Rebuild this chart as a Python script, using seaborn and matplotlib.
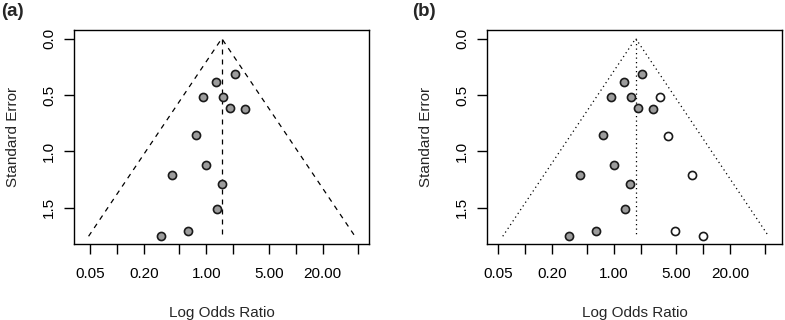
import numpy as np
import matplotlib
matplotlib.use("Agg")
import matplotlib.pyplot as plt
import seaborn as sns

# observed studies (odds ratio, standard error)
or_obs = [2.08, 1.28, 0.92, 1.54, 1.85, 2.72, 0.76, 1.00, 0.41, 1.50, 1.32, 0.63, 0.31]
se_obs = [0.317, 0.388, 0.518, 0.522, 0.613, 0.623, 0.858, 1.120, 1.209, 1.289, 1.513, 1.702, 1.752]

# studies imputed by trim-and-fill (panel b)
or_fill = [3.31, 4.04, 7.45, 4.88, 9.89]
se_fill = [0.516, 0.860, 1.209, 1.702, 1.752]

# pooled estimates
est_a = 1.49
est_b = 1.75
se_max = 1.752

xticks = [0.05, 0.1, 0.2, 0.5, 1, 2, 5, 10, 20, 50]
xtick_labels = ["0.05", "", "0.20", "", "1.00", "", "5.00", "", "20.00", ""]
yticks = [0.0, 0.5, 1.0, 1.5]
ytick_labels = ["0.0", "0.5", "1.0", "1.5"]

sns.set_style("white")
plt.rcParams["font.family"] = ["Liberation Sans", "DejaVu Sans"]

fig = plt.figure(figsize=(7.85, 3.2), dpi=100)
ax_a = fig.add_axes([0.0947, 0.2366, 0.3753, 0.6687])
ax_b = fig.add_axes([0.6208, 0.2366, 0.3750, 0.6687])


def draw_funnel(ax, est, dashes):
    z = 1.96 * se_max
    xs = [est * np.exp(-z), est, est * np.exp(z)]
    ys = [se_max, 0, se_max]
    ax.plot(xs, ys, color="black", lw=0.9, dashes=dashes)
    ax.plot([est, est], [0, se_max], color="black", lw=0.9, dashes=dashes)


def style_axes(ax, xlim):
    ax.set_xscale("log")
    ax.set_xlim(*xlim)
    ax.set_ylim(1.823, -0.073)
    ax.set_xticks(xticks)
    ax.set_xticklabels(xtick_labels)
    ax.minorticks_off()
    ax.set_yticks(yticks)
    ax.set_yticklabels(ytick_labels, rotation=90, va="center")
    ax.tick_params(axis="both", direction="out", length=7, width=1, color="black",
                   labelsize=11, labelcolor="black", bottom=True, left=True)
    ax.tick_params(axis="x", pad=9)
    ax.tick_params(axis="y", pad=6)
    for s in ax.spines.values():
        s.set_color("black")
        s.set_linewidth(1.0)
    ax.set_xlabel("Log Odds Ratio", fontsize=11, labelpad=18)
    ax.set_ylabel("Standard Error", fontsize=11, labelpad=16)


# panel (a)
draw_funnel(ax_a, est_a, (4, 4))
sns.scatterplot(x=or_obs, y=se_obs, ax=ax_a, s=34, color="#9c9c9c",
                edgecolor="#1a1a1a", linewidth=1.2, zorder=3)
style_axes(ax_a, (0.0333, 66.2))

# panel (b)
draw_funnel(ax_b, est_b, (1, 2.6))
sns.scatterplot(x=or_obs, y=se_obs, ax=ax_b, s=34, color="#9c9c9c",
                edgecolor="#1a1a1a", linewidth=1.2, zorder=3)
sns.scatterplot(x=or_fill, y=se_fill, ax=ax_b, s=34, color="white",
                edgecolor="#1a1a1a", linewidth=1.2, zorder=3)
style_axes(ax_b, (0.0379, 76.0))

fig.text(0.001, 0.99, "(a)", fontsize=13.5, fontweight="bold", va="top", ha="left")
fig.text(0.5245, 0.99, "(b)", fontsize=13.5, fontweight="bold", va="top", ha="left")

fig.savefig("out.png", dpi=100)
